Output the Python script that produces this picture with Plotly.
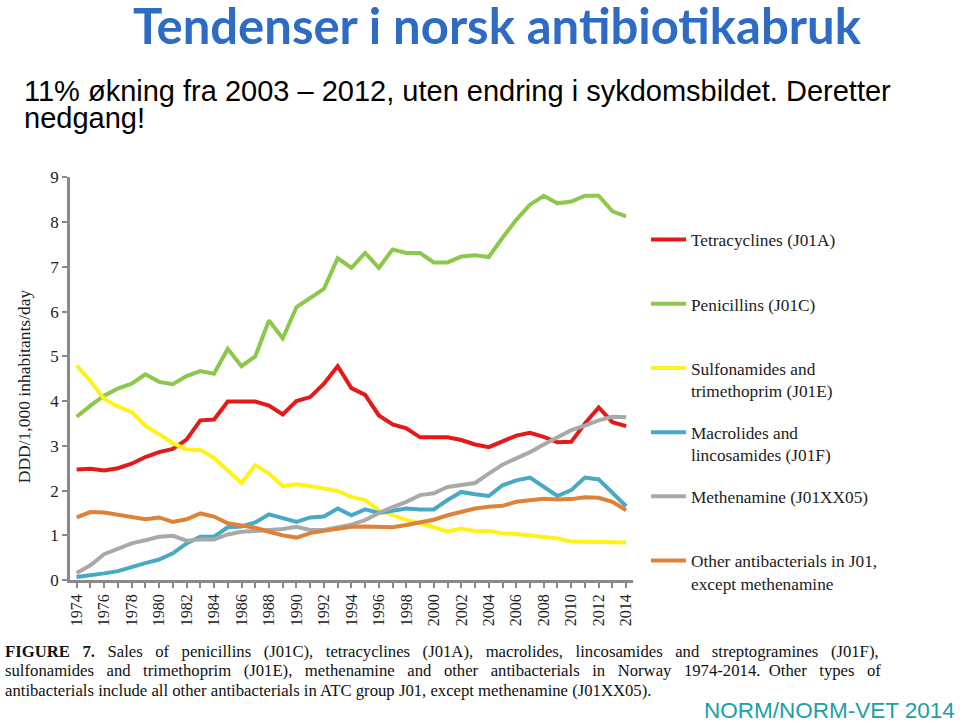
import plotly.graph_objects as go

W, H = 960, 740

years = list(range(1974, 2015))

tetracyclines = [2.47, 2.49, 2.45, 2.50, 2.60, 2.75, 2.86, 2.93, 3.14, 3.57, 3.59,
                 3.99, 3.99, 3.99, 3.90, 3.70, 4.00, 4.09, 4.39, 4.78, 4.29,
                 4.14, 3.68, 3.48, 3.39, 3.19, 3.19, 3.19, 3.13, 3.03, 2.97,
                 3.11, 3.23, 3.29, 3.20, 3.08, 3.09, 3.50, 3.86, 3.53, 3.44]
penicillins = [3.65, 3.90, 4.12, 4.28, 4.39, 4.60, 4.43, 4.38, 4.56, 4.67, 4.61,
               5.17, 4.78, 5.00, 5.80, 5.40, 6.10, 6.30, 6.51, 7.19, 6.98,
               7.31, 6.98, 7.39, 7.31, 7.31, 7.10, 7.10, 7.23, 7.26, 7.22,
               7.65, 8.05, 8.39, 8.59, 8.42, 8.46, 8.59, 8.59, 8.24, 8.13]
sulfonamides = [4.80, 4.45, 4.05, 3.88, 3.76, 3.45, 3.26, 3.06, 2.92, 2.91, 2.73,
                2.45, 2.17, 2.57, 2.38, 2.10, 2.14, 2.10, 2.05, 1.99, 1.86,
                1.79, 1.56, 1.45, 1.34, 1.27, 1.19, 1.09, 1.15, 1.09, 1.10,
                1.04, 1.03, 1.00, 0.98, 0.93, 0.86, 0.86, 0.86, 0.84, 0.84]
macrolides = [0.07, 0.10, 0.15, 0.20, 0.30, 0.38, 0.46, 0.60, 0.82, 0.97, 0.97,
              1.18, 1.20, 1.29, 1.47, 1.38, 1.30, 1.40, 1.42, 1.60, 1.45,
              1.58, 1.50, 1.55, 1.60, 1.58, 1.58, 1.79, 1.97, 1.92, 1.88,
              2.12, 2.23, 2.29, 2.08, 1.88, 2.01, 2.29, 2.25, 1.94, 1.65]
methenamine = [0.16, 0.33, 0.58, 0.69, 0.82, 0.89, 0.97, 0.99, 0.88, 0.91, 0.91,
               1.02, 1.08, 1.10, 1.12, 1.14, 1.19, 1.12, 1.12, 1.19, 1.24,
               1.34, 1.50, 1.63, 1.75, 1.90, 1.94, 2.08, 2.12, 2.17, 2.38,
               2.58, 2.72, 2.86, 3.03, 3.20, 3.35, 3.45, 3.57, 3.65, 3.64]
other = [1.40, 1.52, 1.51, 1.46, 1.42, 1.36, 1.40, 1.30, 1.36, 1.49, 1.42,
         1.27, 1.22, 1.17, 1.08, 1.00, 0.95, 1.05, 1.10, 1.15, 1.19,
         1.20, 1.20, 1.18, 1.23, 1.30, 1.35, 1.45, 1.52, 1.60, 1.64,
         1.66, 1.75, 1.79, 1.82, 1.80, 1.81, 1.85, 1.84, 1.75, 1.56]

series_names = ["Tetracyclines (J01A)",
                "Penicillins (J01C)",
                "Sulfonamides and<br>trimethoprim (J01E)",
                "Macrolides and<br>lincosamides (J01F)",
                "Methenamine (J01XX05)",
                "Other antibacterials in J01,<br>except methenamine"]
series_values = [tetracyclines, penicillins, sulfonamides, macrolides, methenamine, other]
series_colors = ["#E41A1A", "#8CC84B", "#FFF21A", "#47A9C4", "#A9A9A9", "#DE8238"]

y_ticks = list(range(0, 10))
x_tick_labels = [str(y) if y % 2 == 0 else "" for y in years]

SERIF = "Liberation Serif, Times New Roman, serif"
SANS = "Liberation Sans, Arial, sans-serif"

fig = go.Figure()
for i, (name, vals, col) in enumerate(zip(series_names, series_values, series_colors)):
    label = name if "<br>" in name else name + "<br>\u00a0"
    fig.add_trace(go.Scatter(x=years, y=vals, mode="lines", name=label,
                             legendgroup=f"g{i}",
                             line=dict(color=col, width=4)))

def px(x):
    return x / W

def py(y):
    # target picture y -> paper fraction (page is shown slightly squeezed vertically)
    page = (y - 8.5) / 0.975
    return 1 - page / H

fig.update_layout(
    width=W, height=H, autosize=False,
    margin=dict(l=0, r=0, t=0, b=0),
    paper_bgcolor="white", plot_bgcolor="white",
    showlegend=True,
    legend=dict(x=px(646), y=py(221.5), xanchor="left", yanchor="top",
                font=dict(family=SERIF, size=17.3, color="#222"),
                valign="top", tracegroupgap=16.2, itemwidth=35,
                traceorder="grouped", bgcolor="rgba(0,0,0,0)"),
    xaxis=dict(domain=[px(68), px(633)], range=[1973.5, 2014.5],
               tickmode="array", tickvals=years, ticktext=x_tick_labels,
               tickangle=-90, ticks="outside", ticklen=5, tickcolor="#898989",
               tickwidth=1.5,
               showline=True, linecolor="#898989", linewidth=2.5,
               showgrid=False, zeroline=False,
               tickfont=dict(family=SERIF, size=16, color="#222")),
    yaxis=dict(domain=[py(580), py(177)], range=[0, 9],
               tickmode="array", tickvals=y_ticks,
               ticks="outside", ticklen=5, tickcolor="#898989", tickwidth=1.5,
               showline=True, linecolor="#898989", linewidth=2.5,
               showgrid=False, zeroline=False,
               tickfont=dict(family=SERIF, size=17, color="#222")),
)

ann = []
ann.append(dict(text="<b>Tendenser i norsk antibiotikabruk</b>", x=px(497), y=py(24.5),
                xref="paper", yref="paper", xanchor="center", yanchor="middle",
                showarrow=False, font=dict(family="Lato, sans-serif", size=49, color="#2E6BC5")))
ann.append(dict(text="11% økning fra 2003 – 2012, uten endring i sykdomsbildet. Deretter",
                x=px(20), y=py(90.5), xref="paper", yref="paper", xanchor="left", yanchor="middle",
                showarrow=False, font=dict(family=SANS, size=29, color="#000")))
ann.append(dict(text="nedgang!",
                x=px(20), y=py(117.5), xref="paper", yref="paper", xanchor="left", yanchor="middle",
                showarrow=False, font=dict(family=SANS, size=29, color="#000")))
ann.append(dict(text="DDD/1,000 inhabitants/day", x=px(22), y=py(386), textangle=-90,
                xref="paper", yref="paper", xanchor="center", yanchor="middle",
                showarrow=False, font=dict(family=SERIF, size=17.5, color="#222")))

NB = "\u00a0"
line1_words = ["<b>FIGURE", "7.</b>", "Sales", "of", "penicillins", "(J01C),", "tetracyclines",
               "(J01A),", "macrolides,", "lincosamides", "and", "streptogramines", "(J01F),"]
line2_words = ["sulfonamides", "and", "trimethoprim", "(J01E),", "methenamine", "and", "other",
               "antibacterials", "in", "Norway", "1974-2014.", "Other", "types", "of"]
line3 = "antibacterials include all other antibacterials in ATC group J01, except methenamine (J01XX05)."

line1 = (" " + NB + NB).join(line1_words)
gaps2 = [2, 2, 2, 2, 2, 2, 2, 2, 2, 2, 1, 2, 2]
line2 = line2_words[0]
for w, g in zip(line2_words[1:], gaps2):
    line2 += " " + NB * g + w

for k, line in enumerate([line1, line2, line3]):
    ann.append(dict(text=line, x=px(1), y=py(651 + 19.5 * k), xref="paper", yref="paper",
                    xanchor="left", yanchor="middle", showarrow=False,
                    font=dict(family=SERIF, size=16.7, color="#111")))
ann.append(dict(text="NORM/NORM-VET 2014", x=px(958), y=py(710.5), xref="paper", yref="paper",
                xanchor="right", yanchor="middle", showarrow=False,
                font=dict(family=SANS, size=22.5, color="#1AA0A6")))
fig.update_layout(annotations=ann)

fig.write_html("out.html", config={"responsive": False, "displayModeBar": False},
               post_script="document.body.style.margin='0';document.body.style.padding='0';"
                           "document.documentElement.style.overflow='hidden';")
